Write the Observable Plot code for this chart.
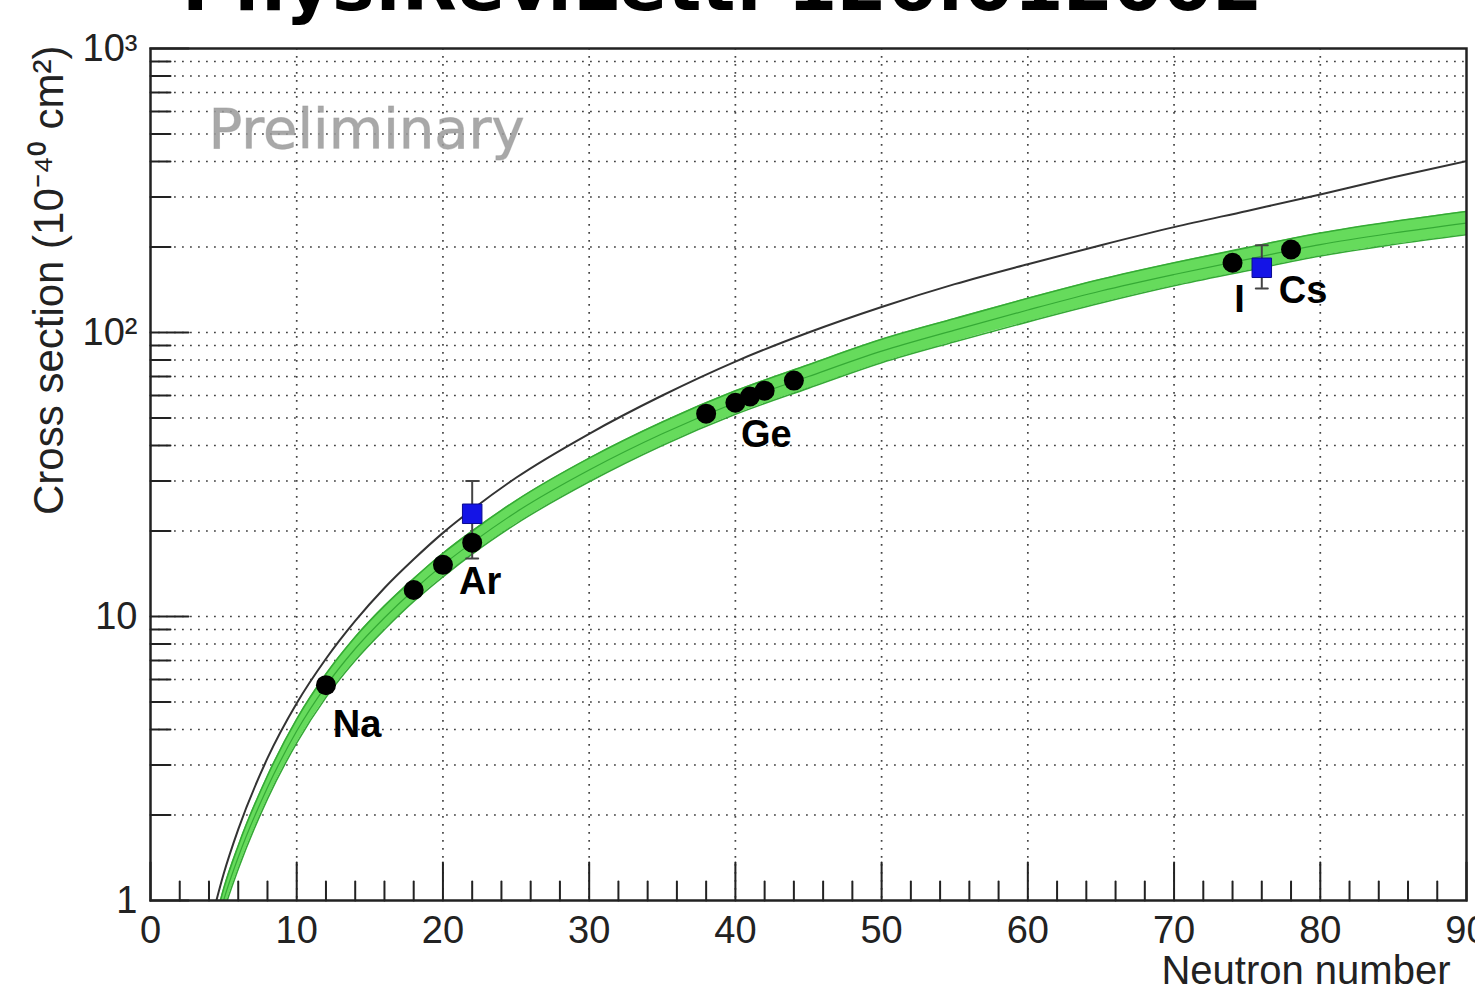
<!DOCTYPE html>
<html><head><meta charset="utf-8">
<script src="https://cdn.jsdelivr.net/npm/d3@7"></script>
<script src="https://cdn.jsdelivr.net/npm/@observablehq/plot@0.6"></script>
<style>
html,body{margin:0;padding:0;background:#fff;overflow:hidden;width:1475px;height:994px;}
#chart{position:absolute;left:0;top:0;}
#title{position:absolute;left:182px;top:-50px;font-family:"DejaVu Sans";font-weight:bold;font-size:71.5px;line-height:71px;white-space:nowrap;color:#000;}
</style></head><body>
<div id="chart"></div>
<div id="title">Phys.Rev.Lett. 126.012002</div>
<script>
// Green band: CEvNS prediction (centre and uncertainty edges)
const bandN   = [4.5, 5, 6, 8, 10, 12, 14, 16, 18, 20, 22, 25, 30, 35, 40, 45, 50, 55, 60, 65, 70, 75, 80, 85, 90];
const bandMid = [0.8, 1.0, 1.42, 2.5, 3.95, 5.7, 7.7, 9.9, 12.4, 15.2, 18.2, 23.3, 32.8, 44, 56.6, 70, 86, 102, 120, 140, 160, 181, 204, 224, 243];
const bandLo  = [0.73, 0.91, 1.29, 2.28, 3.59, 5.19, 7.0, 9.0, 11.3, 13.8, 16.6, 21.2, 29.8, 40.0, 51.5, 63.7, 78.3, 92.8, 109, 127, 146, 165, 186, 204, 221];
const bandHi  = [0.88, 1.1, 1.56, 2.75, 4.35, 6.27, 8.47, 10.9, 13.6, 16.7, 20.0, 25.6, 36.1, 48.4, 62.3, 77, 94.6, 112, 132, 154, 176, 199, 224, 246, 267];
// Thin black curve
const blackN   = [4.0, 5, 6, 8, 10, 12, 14, 16, 18, 20, 22, 25, 30, 35, 40, 45, 50, 55, 60, 65, 70, 75, 80, 85, 90];
const blackVal = [0.79, 1.24, 1.78, 3.17, 4.95, 7.1, 9.65, 12.6, 15.9, 19.7, 23.8, 30.8, 44, 60, 79, 100, 123, 148, 174, 203, 235, 268, 306, 352, 401];
// Isotope predictions (black points)
const isoN   = [12, 18, 20, 22, 38, 40, 41, 42, 44, 74, 78];
const isoVal = [5.73, 12.4, 15.2, 18.2, 51.8, 56.6, 59.5, 62.4, 67.7, 176, 196];
// Measurements (blue squares)
const measN   = [22, 76];
const measVal = [23, 169];
const measLo  = [16, 143];
const measHi  = [30, 203];
// Element labels, attached to isotope points
const elemNames = ["Na", "Ar", "Ge", "I", "Cs"];
const elemAtN   = [12, 22, 40, 74, 78];
// Axis ticks
const xMajor = [0, 10, 20, 30, 40, 50, 60, 70, 80, 90];
const xLabels = ["0", "10", "20", "30", "40", "50", "60", "70", "80", "90"];
const xMinor = d3.range(0, 91, 2).filter(d => d % 10 !== 0);
const yMajor = [1, 10, 100, 1000];
const yLabels = ["1", "10", "10²", "10³"];
const yMinor = [1, 10, 100].flatMap(p => [2,3,4,5,6,7,8,9].map(k => k * p));

const band = bandN.map((n, i) => ({n, mid: bandMid[i], lo: bandLo[i], hi: bandHi[i]}));
const black = blackN.map((n, i) => ({n, v: blackVal[i]}));
const iso = isoN.map((n, i) => ({n, v: isoVal[i]}));
const meas = measN.map((n, i) => ({n, v: measVal[i], lo: measLo[i], hi: measHi[i]}));
const elems = elemNames.map((name, i) => ({name, n: elemAtN[i], v: isoVal[isoN.indexOf(elemAtN[i])]}));

const tickShape = {draw(ctx, l) { ctx.moveTo(0, 0); ctx.lineTo(0, -l); }};
const font = "Liberation Sans, Arial, Helvetica, sans-serif";
const gridStyle = {stroke: "#444", strokeWidth: 1.7, strokeDasharray: "1.8,6.2"};
const elemOffsets = {Na: [31, 40], Ar: [8, 39], Ge: [31, 32], I: [7, 37], Cs: [12, 41]};

const chart = Plot.plot({
  width: 1475, height: 994,
  marginTop: 48, marginLeft: 150, marginRight: 9, marginBottom: 94,
  style: {background: "white", overflow: "visible"},
  x: {domain: [0, 90], axis: null},
  y: {type: "log", domain: [1, 1000], axis: null},
  marks: [
    Plot.ruleX(xMajor.slice(1, -1), gridStyle),
    Plot.ruleY([...yMinor, 10, 100], gridStyle),
    Plot.text(["Preliminary"], {frameAnchor: "top-left", dx: 58, dy: 82, textAnchor: "start", lineAnchor: "middle",
      fontFamily: "DejaVu Sans", fontSize: 56, fill: "#999", fillOpacity: 0.85, stroke: "#999", strokeOpacity: 0.5, strokeWidth: 1}),
    Plot.areaY(band, {x: "n", y1: "lo", y2: "hi", curve: "monotone-x", fill: "#66db5c", clip: true}),
    Plot.line(band, {x: "n", y: "lo", curve: "monotone-x", stroke: "#35aa35", strokeWidth: 1.6, clip: true}),
    Plot.line(band, {x: "n", y: "hi", curve: "monotone-x", stroke: "#35aa35", strokeWidth: 1.6, clip: true}),
    Plot.line(band, {x: "n", y: "mid", curve: "monotone-x", stroke: "#35aa35", strokeWidth: 1.2, clip: true}),
    Plot.line(black, {x: "n", y: "v", curve: "monotone-x", stroke: "#333", strokeWidth: 2, clip: true}),
    Plot.ruleX(meas, {x: "n", y1: "lo", y2: "hi", stroke: "#444", strokeWidth: 2}),
    Plot.vector(meas, {x: "n", y: "lo", length: 12, rotate: 90, anchor: "middle", shape: tickShape, stroke: "#444", strokeWidth: 2}),
    Plot.vector(meas, {x: "n", y: "hi", length: 12, rotate: 90, anchor: "middle", shape: tickShape, stroke: "#444", strokeWidth: 2}),
    Plot.dot(iso, {x: "n", y: "v", r: 10, fill: "black"}),
    Plot.dot(meas, {x: "n", y: "v", symbol: "square", r: 11, fill: "#1414e6", stroke: "#0a0a90", strokeWidth: 1}),
    ...elems.map(e => Plot.text([e], {x: "n", y: "v", text: "name", dx: elemOffsets[e.name][0], dy: elemOffsets[e.name][1],
      lineAnchor: "middle", fontFamily: font, fontWeight: "bold", fontSize: 38, fill: "black"})),
    Plot.frame({stroke: "#222", strokeWidth: 2.5}),
    Plot.vector(xMajor, {x: d => d, y: () => 1, length: 38, rotate: 0, anchor: "start", shape: tickShape, stroke: "#222", strokeWidth: 2}),
    Plot.vector(xMinor, {x: d => d, y: () => 1, length: 19, rotate: 0, anchor: "start", shape: tickShape, stroke: "#222", strokeWidth: 2}),
    Plot.vector(yMajor, {x: () => 0, y: d => d, length: 38, rotate: 90, anchor: "start", shape: tickShape, stroke: "#222", strokeWidth: 2}),
    Plot.vector(yMinor, {x: () => 0, y: d => d, length: 20, rotate: 90, anchor: "start", shape: tickShape, stroke: "#222", strokeWidth: 2}),
    Plot.text(xMajor, {x: d => d, text: (d, i) => xLabels[i], frameAnchor: "bottom", dy: 30, lineAnchor: "middle",
      fontFamily: font, fontSize: 38, fill: "#222"}),
    Plot.text(yMajor, {y: d => d, text: (d, i) => yLabels[i], frameAnchor: "left", dx: -13, textAnchor: "end", lineAnchor: "middle",
      fontFamily: font, fontSize: 38, fill: "#222"}),
    Plot.text(["Neutron number"], {frameAnchor: "bottom-right", dx: -16, dy: 71, textAnchor: "end", lineAnchor: "middle",
      fontFamily: font, fontSize: 40, fill: "#222"}),
    Plot.text(["Cross section (10⁻⁴⁰ cm²)"], {frameAnchor: "top-left", dx: -101, dy: -3, rotate: -90, textAnchor: "end", lineAnchor: "middle",
      fontFamily: font, fontSize: 42, fill: "#222"})
  ]
});
document.getElementById("chart").appendChild(chart);
</script>
</body></html>
